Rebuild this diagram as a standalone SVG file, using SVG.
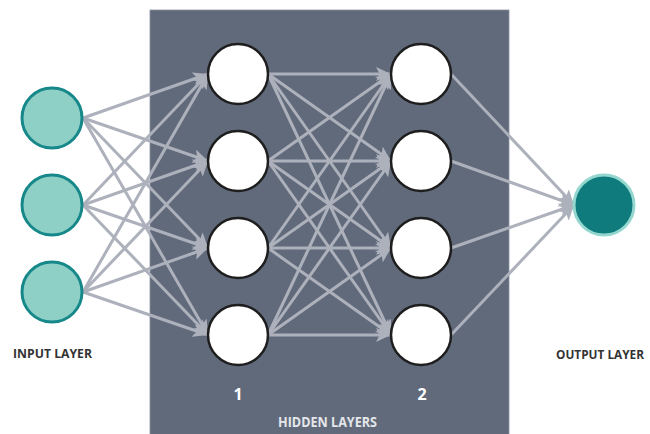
<svg xmlns="http://www.w3.org/2000/svg" width="650" height="434" viewBox="0 0 650 434">
<style>
.lbl{font-family:"Open Sans","Liberation Sans",sans-serif;font-weight:bold;font-size:12.5px;fill:#333;}
.hl{font-family:"Open Sans","Liberation Sans",sans-serif;font-weight:bold;font-size:13.5px;fill:#e4e6ea;}
.num{font-family:"Open Sans","Liberation Sans",sans-serif;font-weight:bold;font-size:16px;fill:#fff;}
.in{fill:#8ecfc6;stroke:#17888a;stroke-width:3;}
.hid{fill:#fff;stroke:#1e1e1e;stroke-width:2.5;}
.out{fill:#0f7b7c;stroke:#93d7cf;stroke-width:3;}
.c line{stroke:#adb1bc;stroke-width:3;marker-end:url(#ah);}
</style>
<defs>
<marker id="ah" markerUnits="userSpaceOnUse" markerWidth="16" markerHeight="14" refX="15" refY="7" orient="auto">
<path d="M0,0 L15,7 L0,14 L3.5,7 z" fill="#adb1bc"/>
</marker>
</defs>
<rect x="150" y="10" width="359" height="430" fill="#616a7a" stroke="#8a92a0" stroke-width="0.8"/>
<g id="connectors" class="c">
<line x1="83" y1="118" x2="208" y2="74"/>
<line x1="83" y1="118" x2="208" y2="161"/>
<line x1="83" y1="118" x2="208" y2="248"/>
<line x1="83" y1="118" x2="208" y2="335"/>
<line x1="83" y1="205" x2="208" y2="74"/>
<line x1="83" y1="205" x2="208" y2="161"/>
<line x1="83" y1="205" x2="208" y2="248"/>
<line x1="83" y1="205" x2="208" y2="335"/>
<line x1="83" y1="292" x2="208" y2="74"/>
<line x1="83" y1="292" x2="208" y2="161"/>
<line x1="83" y1="292" x2="208" y2="248"/>
<line x1="83" y1="292" x2="208" y2="335"/>
<line x1="268" y1="74" x2="391" y2="74"/>
<line x1="268" y1="74" x2="391" y2="161"/>
<line x1="268" y1="74" x2="391" y2="248"/>
<line x1="268" y1="74" x2="391" y2="335"/>
<line x1="268" y1="161" x2="391" y2="74"/>
<line x1="268" y1="161" x2="391" y2="161"/>
<line x1="268" y1="161" x2="391" y2="248"/>
<line x1="268" y1="161" x2="391" y2="335"/>
<line x1="268" y1="248" x2="391" y2="74"/>
<line x1="268" y1="248" x2="391" y2="161"/>
<line x1="268" y1="248" x2="391" y2="248"/>
<line x1="268" y1="248" x2="391" y2="335"/>
<line x1="268" y1="335" x2="391" y2="74"/>
<line x1="268" y1="335" x2="391" y2="161"/>
<line x1="268" y1="335" x2="391" y2="248"/>
<line x1="268" y1="335" x2="391" y2="335"/>
<line x1="451" y1="74" x2="574" y2="205"/>
<line x1="451" y1="161" x2="574" y2="205"/>
<line x1="451" y1="248" x2="574" y2="205"/>
<line x1="451" y1="335" x2="574" y2="205"/>
</g>
<g id="in1"><circle class="in" cx="52" cy="118" r="30"/></g>
<g id="in2"><circle class="in" cx="52" cy="205" r="30"/></g>
<g id="in3"><circle class="in" cx="52" cy="292" r="30"/></g>
<g id="h1a"><circle class="hid" cx="238" cy="74" r="30"/></g>
<g id="h1b"><circle class="hid" cx="238" cy="161" r="30"/></g>
<g id="h1c"><circle class="hid" cx="238" cy="248" r="30"/></g>
<g id="h1d"><circle class="hid" cx="238" cy="335" r="30"/></g>
<g id="h2a"><circle class="hid" cx="421" cy="74" r="30"/></g>
<g id="h2b"><circle class="hid" cx="421" cy="161" r="30"/></g>
<g id="h2c"><circle class="hid" cx="421" cy="248" r="30"/></g>
<g id="h2d"><circle class="hid" cx="421" cy="335" r="30"/></g>
<g id="out"><circle class="out" cx="604" cy="205" r="30"/></g>
<g id="labels">
<text class="lbl" x="13" y="358" textLength="79" lengthAdjust="spacingAndGlyphs">INPUT LAYER</text>
<text class="lbl" x="556" y="359" textLength="88" lengthAdjust="spacingAndGlyphs">OUTPUT LAYER</text>
<text class="num" x="238" y="400" text-anchor="middle">1</text>
<text class="num" x="422" y="400" text-anchor="middle">2</text>
<text class="hl" x="278" y="427" textLength="99" lengthAdjust="spacingAndGlyphs">HIDDEN LAYERS</text>
</g>
</svg>
